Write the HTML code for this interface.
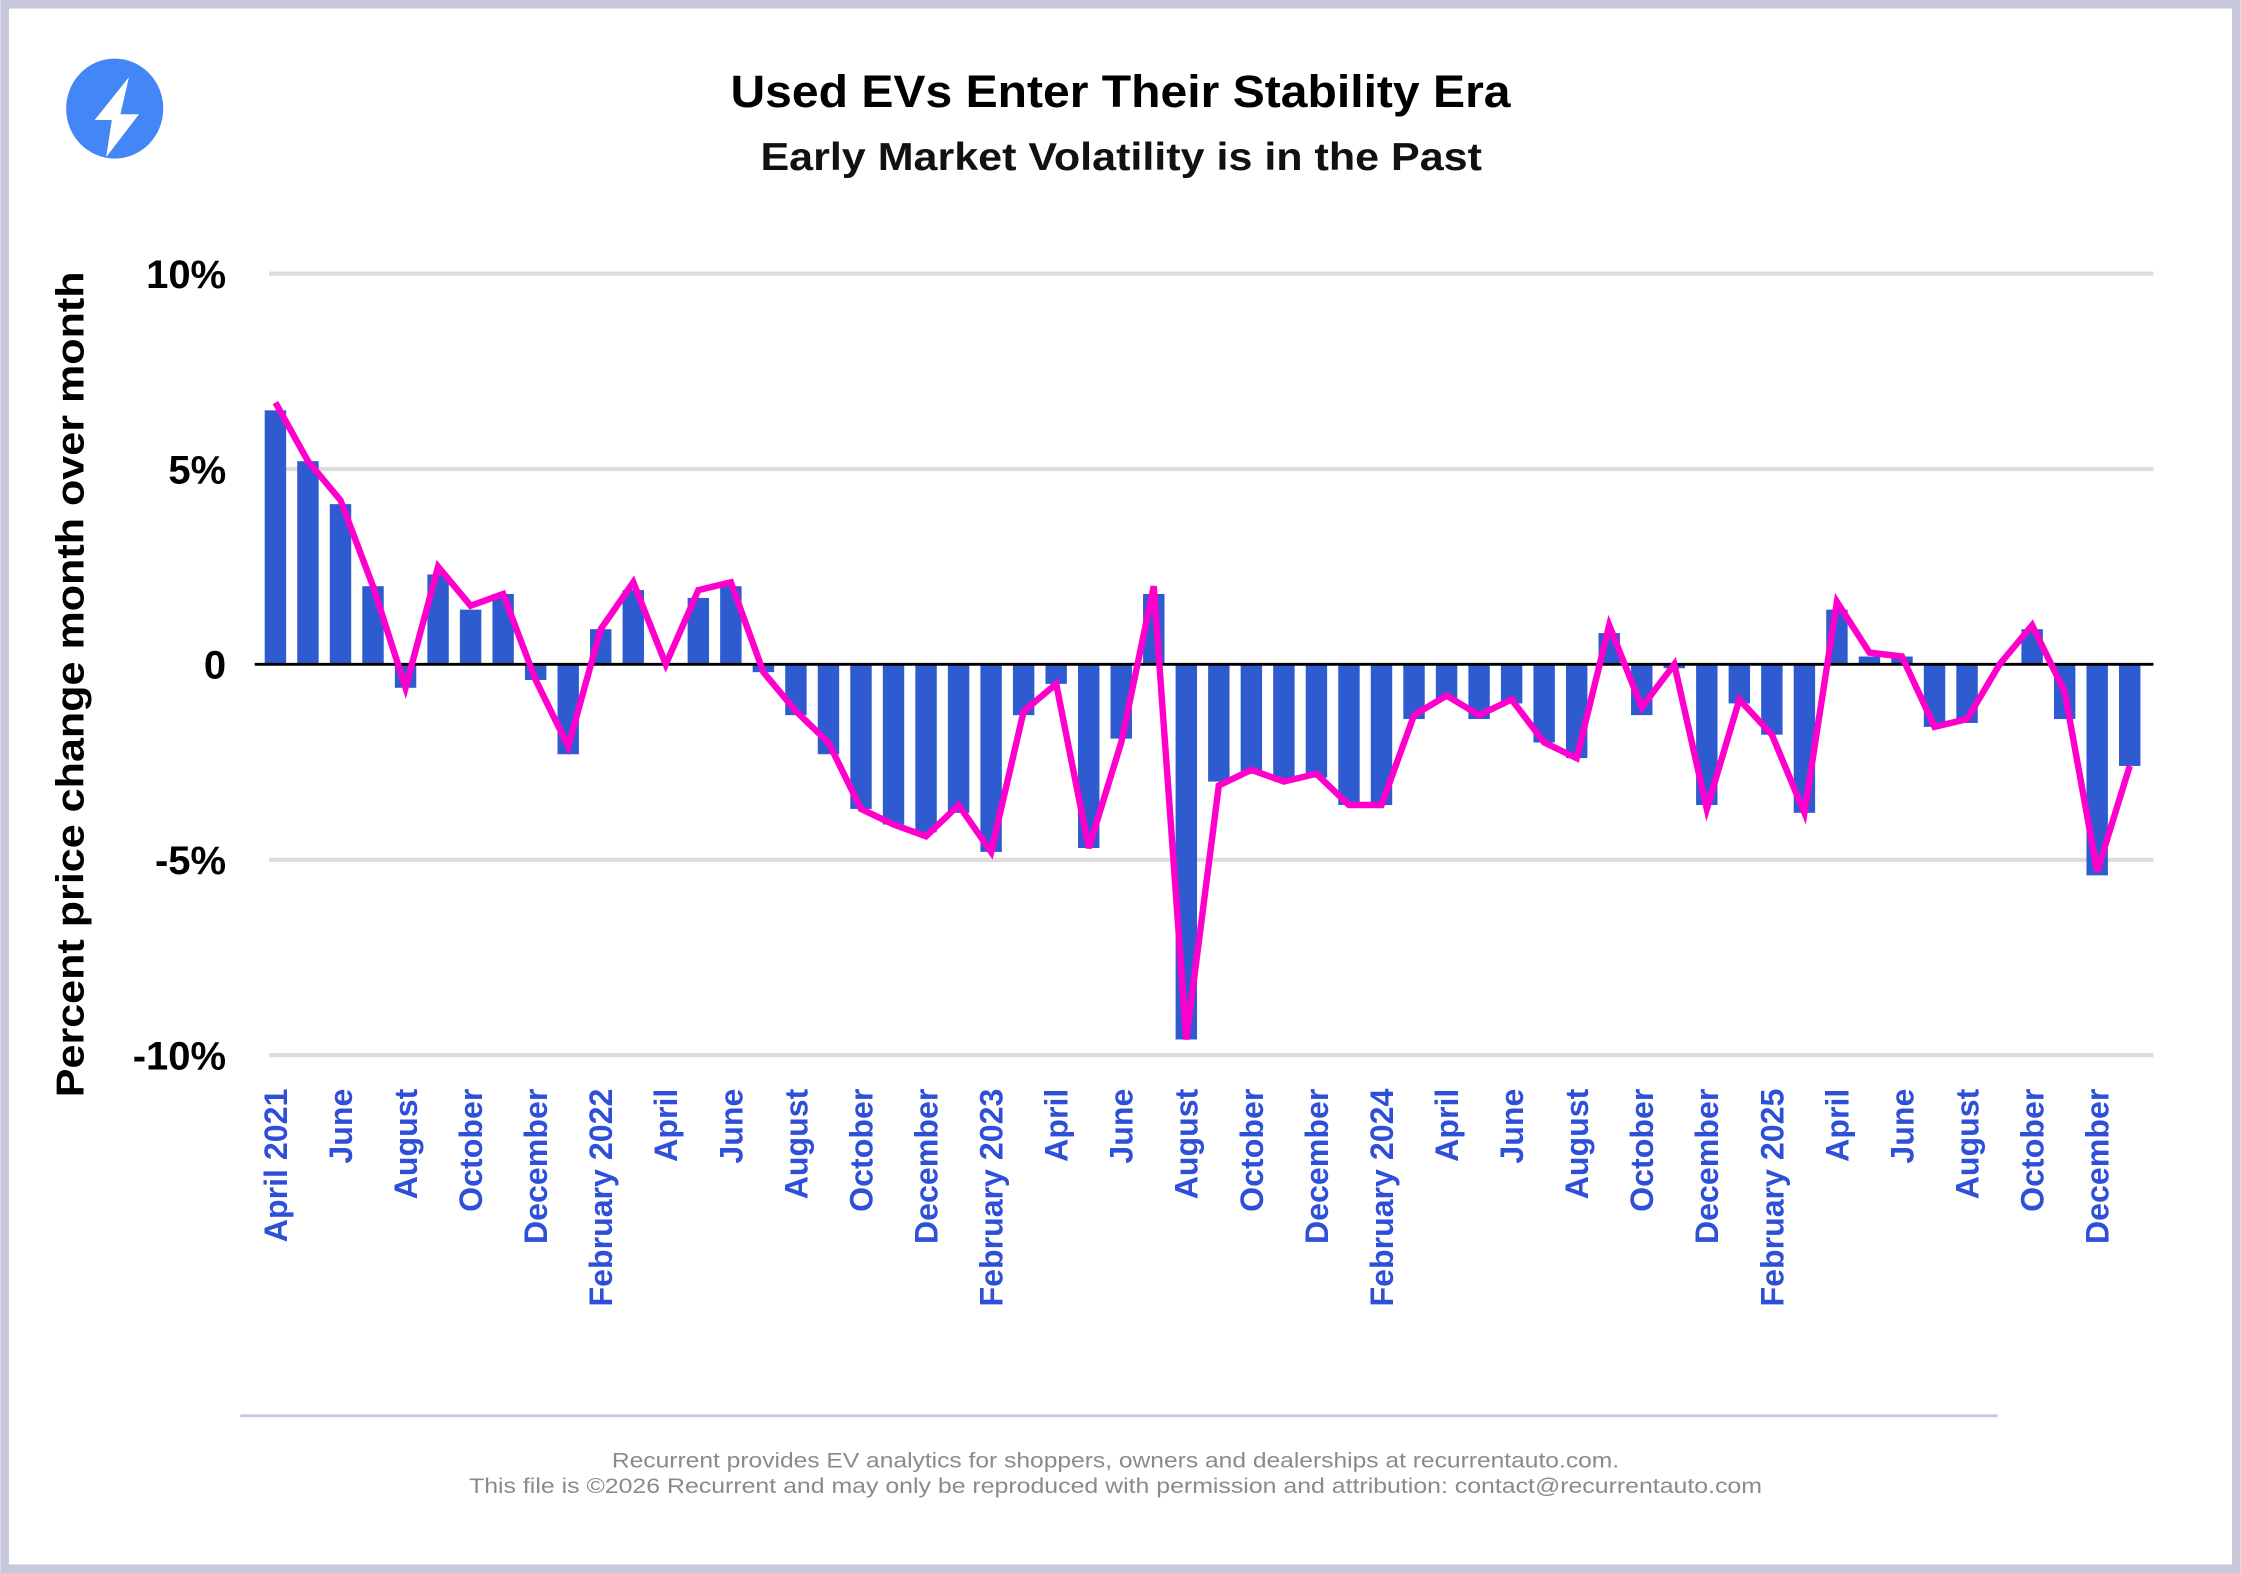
<!DOCTYPE html>
<html><head><meta charset="utf-8"><style>
html,body{margin:0;padding:0;background:#fff}
svg{display:block}
text{font-family:"Liberation Sans",sans-serif}
</style></head><body>
<svg id="chart" width="2241" height="1573" viewBox="0 0 1568 1101" xmlns="http://www.w3.org/2000/svg">
<rect x="3" y="3" width="1562" height="1095" fill="#fff" stroke="#c8c8dc" stroke-width="6"/>
<g>
<ellipse cx="80" cy="76" rx="34" ry="35" fill="#4287f5"/>
<polygon points="90,54 66,84 78,84 74,110 97,80 84,80" fill="#fff"/>
</g>
<text x="511" y="75" textLength="546" lengthAdjust="spacingAndGlyphs" font-size="32" font-weight="bold" fill="#000">Used EVs Enter Their Stability Era</text>
<text x="532" y="119" textLength="505" lengthAdjust="spacingAndGlyphs" font-size="27" font-weight="bold" fill="#111">Early Market Volatility is in the Past</text>
<text transform="translate(58,768) rotate(-90)" textLength="578" lengthAdjust="spacingAndGlyphs" font-size="27" font-weight="bold" fill="#000">Percent price change month over month</text>
<g id="grid"></g><g id="bars"></g><g id="xlabels"></g>
<line x1="168" y1="991" x2="1398" y2="991" stroke="#c8c8dc" stroke-width="2"/>
<text x="428" y="1027" textLength="705" lengthAdjust="spacingAndGlyphs" font-size="15" fill="#8a8a8a">Recurrent provides EV analytics for shoppers, owners and dealerships at recurrentauto.com.</text>
<text x="328" y="1045" textLength="905" lengthAdjust="spacingAndGlyphs" font-size="15" fill="#8a8a8a">This file is ©2026 Recurrent and may only be reproduced with permission and attribution: contact@recurrentauto.com</text>
</svg>
<script>
const yTicks=[10,5,0,-5,-10];
const yTickLabels=["10%","5%","0","-5%","-10%"];
const barValues=[6.5,5.2,4.1,2.0,-0.6,2.3,1.4,1.8,-0.4,-2.3,0.9,1.9,0.0,1.7,2.0,-0.2,-1.3,-2.3,-3.7,-4.1,-4.3,-3.8,-4.8,-1.3,-0.5,-4.7,-1.9,1.8,-9.6,-3.0,-2.8,-3.0,-2.9,-3.6,-3.6,-1.4,-0.9,-1.4,-1.0,-2.0,-2.4,0.8,-1.3,-0.1,-3.6,-1.0,-1.8,-3.8,1.4,0.2,0.2,-1.6,-1.5,0.0,0.9,-1.4,-5.4,-2.6];
const lineValues=[6.7,5.2,4.2,2.0,-0.6,2.5,1.5,1.8,-0.4,-2.1,0.9,2.1,0.0,1.9,2.1,-0.2,-1.2,-2.0,-3.7,-4.1,-4.4,-3.6,-4.8,-1.2,-0.5,-4.7,-2.0,2.0,-9.6,-3.1,-2.7,-3.0,-2.8,-3.6,-3.6,-1.3,-0.8,-1.3,-0.9,-2.0,-2.4,1.0,-1.1,0.0,-3.7,-0.9,-1.8,-3.8,1.6,0.3,0.2,-1.6,-1.4,0.0,1.0,-0.7,-5.3,-2.6];
const xLabels=["April 2021","June","August","October","December","February 2022","April","June","August","October","December","February 2023","April","June","August","October","December","February 2024","April","June","August","October","December","February 2025","April","June","August","October","December"];
const NS="http://www.w3.org/2000/svg";
const x=i=>192.5+i*22.77;
const y=v=>465-v*27.35;
function mk(tag,attrs,parent){const e=document.createElementNS(NS,tag);for(const k in attrs)e.setAttribute(k,attrs[k]);parent.appendChild(e);return e;}
const grid=document.getElementById('grid');
yTicks.forEach((t,i)=>{
  if(t!==0){const l=mk('line',{x1:188,x2:1507,y1:y(t),y2:y(t),stroke:'#dcdcdc','stroke-width':3},grid);
  
  }
  const tx=mk('text',{x:158,y:y(t)+10,'text-anchor':'end','font-size':28,'font-weight':'bold',fill:'#000'},grid);
  tx.textContent=yTickLabels[i];
  
  
});
const bars=document.getElementById('bars');
barValues.forEach((v,i)=>{
  const r=mk('rect',{x:x(i)-7.5,width:15,y:Math.min(y(v),y(0)),height:Math.abs(y(v)-y(0)),fill:'#2f5bd0'},bars);
  
  
});
const z=mk('line',{x1:178,x2:1507,y1:y(0),y2:y(0),stroke:'#000','stroke-width':2},bars);


const p=mk('polyline',{points:lineValues.map((v,i)=>x(i)+','+y(v)).join(' '),fill:'none',stroke:'#ff00cc','stroke-width':4.5,'stroke-linejoin':'miter'},bars);


const xl=document.getElementById('xlabels');
xLabels.forEach((s,i)=>{
  const t=mk('text',{transform:`translate(${x(i*2)+8},762) rotate(-90)`,'text-anchor':'end','font-size':22.5,'font-weight':'bold',fill:'#2e4fd8'},xl);
  t.textContent=s;
  
  
});
</script>
</body></html>
